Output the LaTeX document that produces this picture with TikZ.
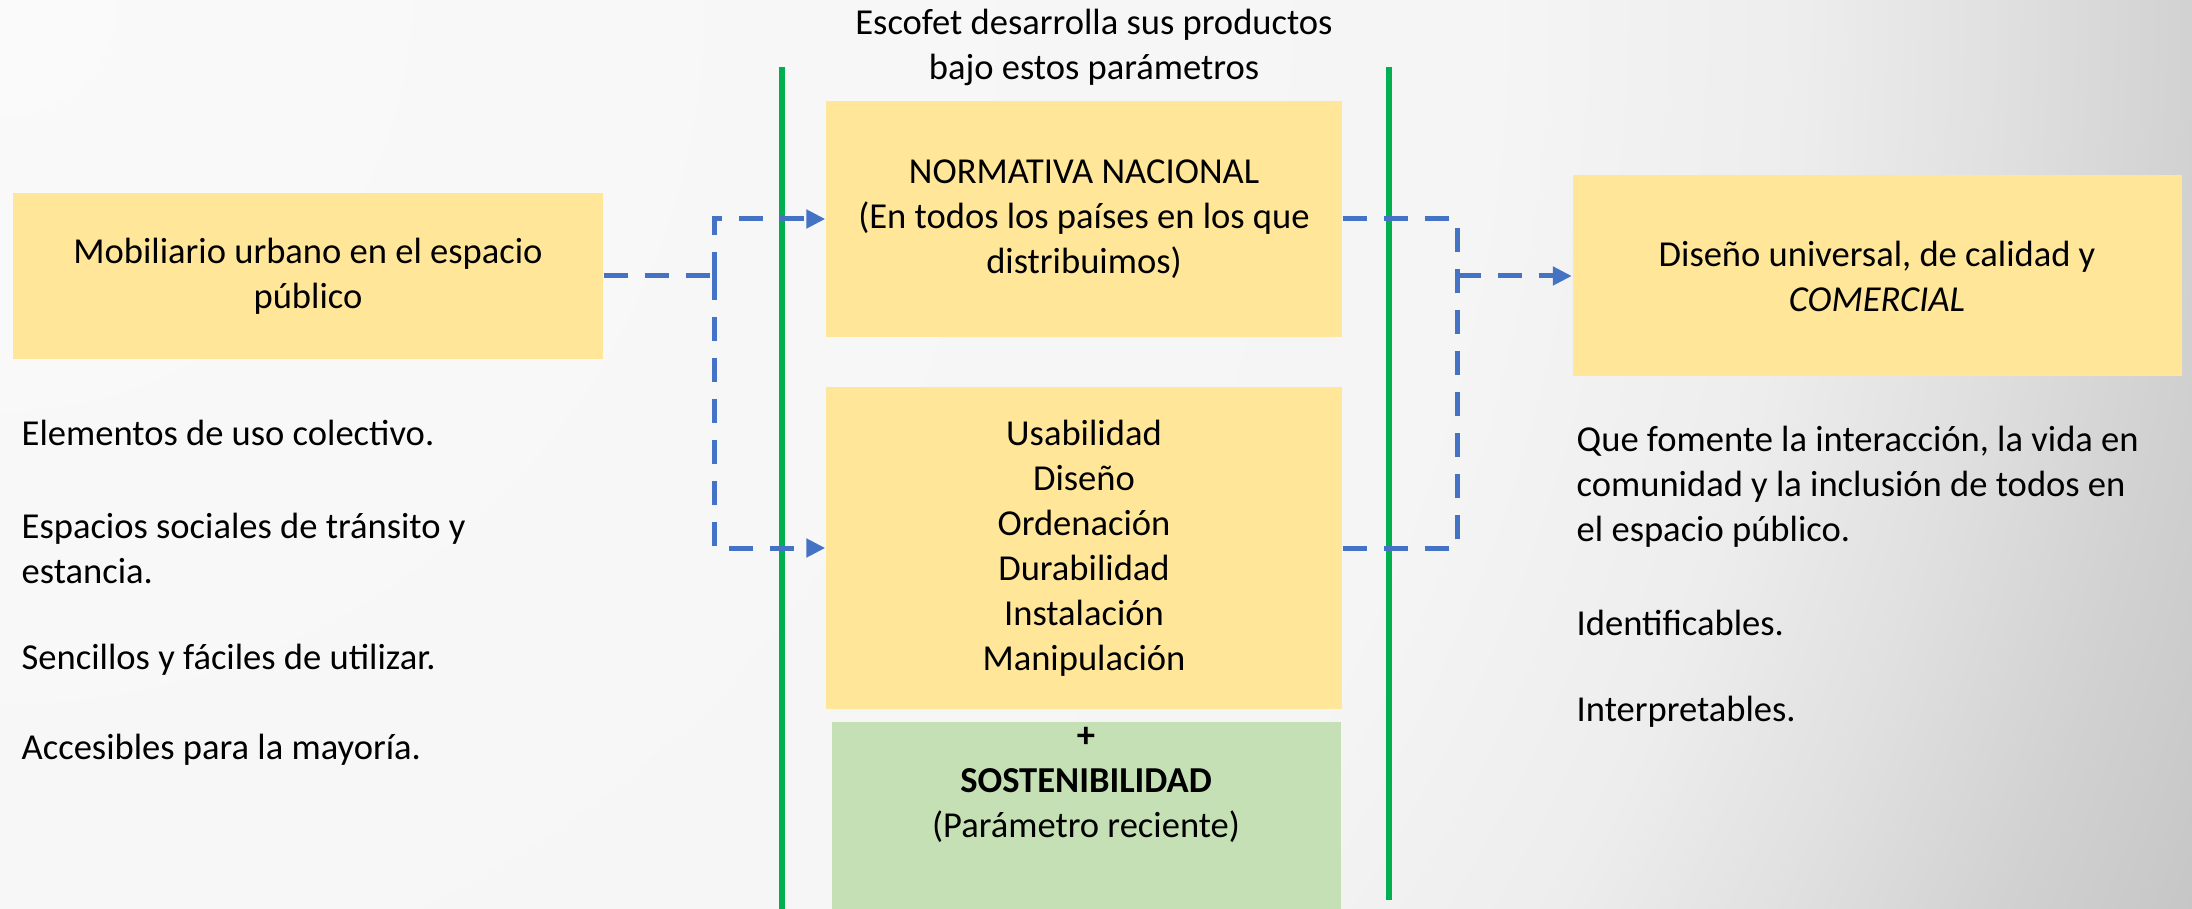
\documentclass[tikz,border=0pt]{standalone}
\usepackage{fontspec}
\setmainfont{Carlito}
\usetikzlibrary{arrows.meta}
\definecolor{boxyellow}{HTML}{FFE699}
\definecolor{boxgreen}{HTML}{C5E0B4}
\definecolor{linegreen}{HTML}{00B050}
\definecolor{flowblue}{HTML}{4472C4}
\pgfdeclareradialshading{backdrop}{\pgfpointorigin}{color(0bp)=(white!98!black); color(15.6bp)=(white!96!black); color(18.75bp)=(white!93!black); color(20.8bp)=(white!88!black); color(22.9bp)=(white!82!black); color(25bp)=(white!77!black); color(50bp)=(white!77!black)}

\begin{document}
\begin{tikzpicture}[x=0.1mm,y=-0.1mm,
  every node/.style={font=\fontsize{10.4}{12.8}\selectfont, inner sep=0pt},
  pbox/.style={fill=boxyellow, align=center},
  flow/.style={flowblue, line width=0.05cm, dash pattern=on 0.24cm off 0.17cm},
  arrowed/.style={-{Triangle[length=0.19cm,width=0.18cm]}},
  divider/.style={linegreen, line width=0.065cm}]
  \useasboundingbox (0,0) rectangle (2192,909);
  \begin{scope}
    \clip (0,0) rectangle (2192,909);
    \shade[shading=backdrop] (-2400,-2400) rectangle (2400,2400);
  \end{scope}

  \draw[divider] (782,67) -- (782,909);
  \draw[divider] (1389,67) -- (1389,900);

  \node[align=center] (titulo) at (1094,47) {Escofet desarrolla sus productos\\bajo estos parámetros};
  \node[pbox, minimum width=5.9cm, minimum height=1.66cm] (mob) at (308,276) {Mobiliario urbano en el espacio\\público};
  \node[pbox, minimum width=5.16cm, minimum height=2.36cm] (norm) at (1084,219) {NORMATIVA NACIONAL\\(En todos los países en los que\\distribuimos)};
  \node[pbox, minimum width=5.16cm, minimum height=3.22cm] (param) at (1084,548) {Usabilidad\\Diseño\\Ordenación\\Durabilidad\\Instalación\\Manipulación};
  \node[fill=boxgreen, anchor=north, minimum width=5.09cm, minimum height=2.1cm] (sost) at (1086,721) {};
  \node[align=center] (sosttxt) at (1086,785) {\textbf{+}\\\textbf{SOSTENIBILIDAD}\\(Parámetro reciente)};
  \node[pbox, minimum width=6.09cm, minimum height=2.01cm] (diseno) at (1877,276) {Diseño universal, de calidad y\\\textit{COMERCIAL}};

  % rasgos del mobiliario
  \node[anchor=west] (colectivo) at (21,433) {Elementos de uso colectivo.};
  \node[anchor=west, align=left] (transito) at (21,548) {Espacios sociales de tránsito y\\estancia.};
  \node[anchor=west] (sencillos) at (21,660) {Sencillos y fáciles de utilizar.};
  \node[anchor=west] (accesibles) at (21,750) {Accesibles para la mayoría.};

  % resultado
  \node[anchor=west, align=left] (interaccion) at (1576,487) {Que fomente la interacción, la vida en\\comunidad y la inclusión de todos en\\el espacio público.};
  \node[anchor=west] (identif) at (1576,623) {Identificables.};
  \node[anchor=west] (interpret) at (1576,712) {Interpretables.};

  \coordinate (jl) at (714,276);
  \coordinate (jr) at (1457,276);
  \draw[flow] (mob.east) -- (jl);
  \draw[flow, arrowed] (jl) |- (norm.west);
  \draw[flow, arrowed] (jl) |- (param.west);
  \draw[flow] (norm.east) -| (jr);
  \draw[flow] (param.east) -| (jr);
  \draw[flow, arrowed] (jr) -- (diseno.west);
\end{tikzpicture}
\end{document}
